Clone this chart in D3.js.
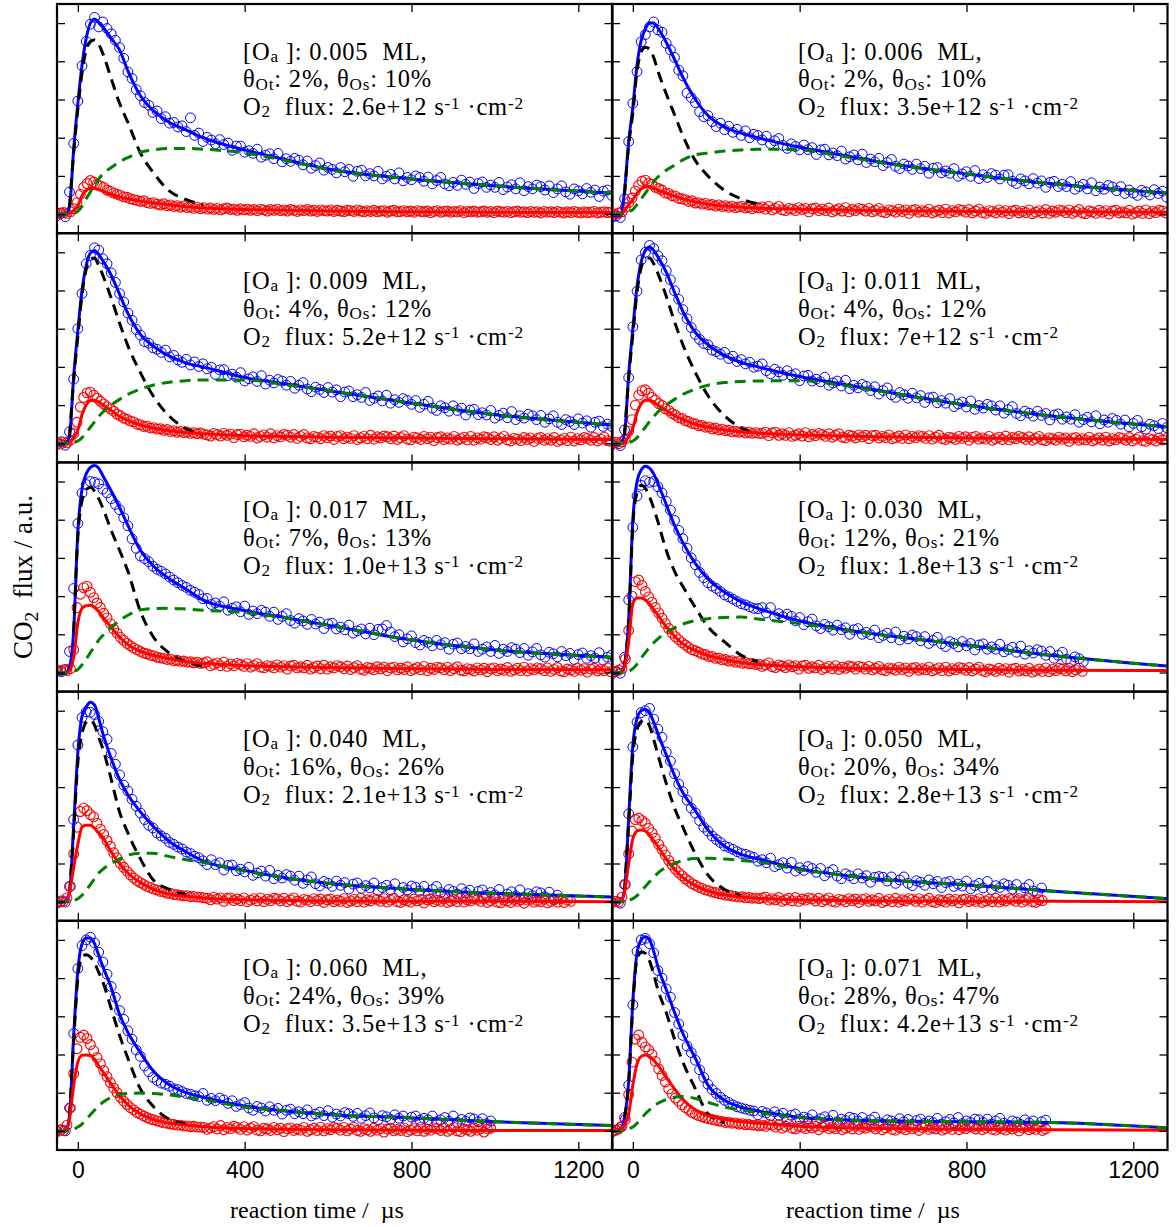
<!DOCTYPE html>
<html>
<head>
<meta charset="utf-8">
<script src="https://cdn.jsdelivr.net/npm/d3@7"></script>
<style>
  body { margin: 0; background: #fff; }
  text { white-space: pre; }
</style>
</head>
<body>
<svg id="chart" width="1176" height="1227"></svg>
<script>
// ---- panel annotations (one entry per panel, row by row, left then right) ----
const oaCoverage = ["0.005", "0.006", "0.009", "0.011", "0.017", "0.030", "0.040", "0.050", "0.060", "0.071"];
const thetaOt = ["2%", "2%", "4%", "4%", "7%", "12%", "16%", "20%", "24%", "28%"];
const thetaOs = ["10%", "10%", "12%", "12%", "13%", "21%", "26%", "34%", "39%", "47%"];
const o2Flux = ["2.6e+12", "3.5e+12", "5.2e+12", "7e+12", "1.0e+13", "1.8e+13", "2.1e+13", "2.8e+13", "3.5e+13", "4.2e+13"];

// ---- axes ----
const xTicks = [0, 400, 800, 1200];
const yTicks = [0, 100, 200, 300, 400, 500];   // CO2 flux in 1/100 a.u.

// ---- model curves, sampled at fitTimes (µs) ----
const fitTimes = [-50, -30, -20, -10, 0, 10, 20, 30, 40, 50, 60, 80, 100, 120, 150, 180, 220, 260, 300, 400, 500, 600, 800, 1000, 1280];

const blueFit = [
  [-3, -2, 20, 170, 290, 390, 460, 500, 511, 502, 490, 460, 430, 375, 310, 272, 240, 220, 200, 168, 142, 118, 92, 74, 55],
  [-5, -3, 60, 190, 280, 390, 455, 485, 500, 500, 487, 450, 405, 358, 300, 258, 228, 212, 200, 175, 155, 135, 105, 80, 55],
  [-3, -2, 20, 175, 295, 400, 465, 498, 505, 495, 478, 440, 390, 340, 285, 255, 228, 210, 200, 172, 155, 138, 105, 75, 48],
  [-3, -2, 25, 180, 300, 410, 475, 505, 514, 505, 488, 448, 395, 345, 290, 258, 230, 212, 200, 175, 155, 136, 100, 72, 43],
  [-3, -2, 15, 110, 370, 480, 520, 537, 542, 535, 515, 475, 432, 385, 320, 280, 245, 218, 190, 162, 143, 124, 85, 59, 40],
  [-3, -1, 20, 140, 400, 500, 530, 540, 535, 520, 495, 440, 385, 340, 285, 245, 210, 185, 168, 135, 114, 98, 72, 45, 17],
  [-2, 0, 25, 200, 390, 485, 510, 522, 515, 480, 440, 375, 320, 280, 235, 198, 157, 130, 107, 82, 62, 48, 32, 22, 12],
  [-2, 0, 30, 220, 410, 480, 500, 503, 495, 470, 440, 385, 330, 285, 238, 188, 145, 124, 112, 86, 70, 58, 44, 28, 8],
  [-2, 0, 40, 250, 420, 490, 505, 505, 490, 460, 430, 375, 305, 258, 205, 158, 120, 100, 88, 65, 52, 43, 34, 24, 14],
  [-2, 5, 35, 130, 340, 465, 500, 508, 500, 470, 430, 370, 310, 255, 190, 120, 80, 62, 52, 36, 29, 26, 24, 22, 8]
];
const fastFit = [
  [0, 0, 18, 160, 275, 370, 430, 452, 456, 445, 420, 355, 290, 240, 160, 110, 60, 38, 24, 8, 3, 1, 0, 0, 0],
  [0, 0, 50, 180, 265, 375, 425, 437, 432, 410, 375, 315, 260, 205, 140, 100, 62, 40, 26, 9, 3, 1, 0, 0, 0],
  [0, 0, 18, 165, 280, 390, 455, 482, 485, 465, 440, 380, 315, 255, 185, 125, 70, 38, 22, 6, 2, 0, 0, 0, 0],
  [0, 0, 22, 170, 285, 395, 460, 482, 485, 470, 445, 385, 318, 258, 185, 125, 72, 40, 24, 7, 2, 0, 0, 0, 0],
  [0, 0, 14, 105, 355, 450, 478, 485, 475, 455, 430, 372, 320, 265, 160, 95, 50, 28, 16, 5, 1, 0, 0, 0, 0],
  [0, 0, 18, 135, 385, 470, 490, 482, 460, 430, 395, 320, 265, 225, 170, 120, 80, 45, 28, 8, 2, 0, 0, 0, 0],
  [0, 0, 22, 185, 365, 440, 470, 476, 462, 430, 400, 320, 235, 180, 112, 58, 32, 18, 10, 3, 1, 0, 0, 0, 0],
  [0, 0, 28, 205, 385, 450, 472, 476, 460, 425, 385, 310, 245, 195, 125, 70, 32, 16, 9, 3, 1, 0, 0, 0, 0],
  [0, 0, 38, 235, 400, 455, 461, 455, 440, 415, 390, 320, 250, 190, 110, 65, 30, 18, 10, 3, 1, 0, 0, 0, 0],
  [0, 4, 35, 125, 330, 450, 468, 465, 445, 410, 370, 310, 240, 180, 110, 45, 22, 10, 5, 1, 0, 0, 0, 0, 0]
];
const slowFit = [
  [0, 0, 0, 2, 8, 20, 40, 58, 75, 92, 105, 122, 137, 148, 162, 168, 172, 172, 170, 160, 140, 117, 92, 74, 55],
  [0, 0, 2, 6, 12, 25, 40, 55, 70, 85, 97, 115, 128, 142, 155, 160, 165, 168, 170, 168, 152, 134, 105, 80, 55],
  [0, 0, 0, 2, 6, 15, 28, 42, 56, 70, 82, 100, 115, 128, 142, 152, 160, 164, 166, 166, 153, 138, 105, 75, 48],
  [0, 0, 0, 2, 6, 15, 28, 42, 57, 70, 82, 100, 115, 128, 142, 152, 159, 162, 163, 164, 152, 135, 100, 72, 43],
  [0, 0, 0, 3, 8, 20, 35, 52, 68, 85, 97, 118, 136, 150, 164, 167, 168, 166, 163, 157, 142, 124, 85, 59, 40],
  [0, 0, 0, 3, 10, 22, 38, 52, 66, 78, 88, 105, 117, 127, 136, 141, 144, 145, 140, 128, 112, 98, 72, 45, 17],
  [0, 0, 0, 3, 8, 17, 30, 45, 60, 75, 85, 100, 112, 122, 127, 127, 118, 110, 103, 80, 62, 48, 32, 22, 12],
  [0, 0, 0, 3, 8, 16, 28, 40, 52, 64, 75, 90, 100, 108, 113, 114, 112, 108, 104, 84, 70, 58, 44, 28, 8],
  [0, 0, 1, 4, 10, 18, 30, 42, 54, 66, 75, 88, 95, 98, 99, 98, 94, 88, 82, 62, 52, 43, 34, 24, 14],
  [0, 0, 2, 6, 10, 20, 32, 45, 55, 65, 72, 82, 88, 90, 85, 75, 62, 55, 48, 35, 29, 26, 24, 22, 8]
];
const redFit = [
  [0, 0, 2, 10, 22, 48, 62, 67, 67, 64, 60, 52, 45, 40, 34, 29, 24, 19, 16, 12, 10, 8, 6, 5, 4],
  [0, 0, 10, 25, 38, 55, 66, 71, 72, 68, 63, 55, 47, 40, 32, 26, 21, 18, 16, 13, 11, 9, 7, 6, 5],
  [0, 0, 2, 15, 35, 75, 100, 112, 113, 108, 100, 86, 70, 60, 48, 40, 33, 28, 25, 20, 18, 16, 14, 12, 10],
  [0, 0, 3, 18, 40, 80, 104, 113, 113, 108, 100, 86, 72, 62, 50, 42, 35, 30, 27, 22, 19, 17, 14, 12, 10],
  [0, 0, 5, 40, 130, 168, 175, 176, 170, 160, 145, 118, 93, 73, 55, 45, 36, 28, 24, 18, 15, 13, 10, 8, 7],
  [0, 0, 15, 80, 180, 195, 195, 190, 180, 165, 150, 120, 95, 75, 57, 45, 34, 26, 21, 15, 12, 10, 8, 6, 5],
  [0, 0, 25, 90, 150, 195, 200, 200, 192, 180, 168, 130, 100, 75, 50, 33, 20, 14, 10, 5, 3, 2, 1, 1, 0],
  [0, 0, 25, 100, 165, 185, 188, 185, 175, 160, 145, 112, 85, 63, 42, 28, 18, 12, 9, 5, 3, 2, 1, 1, 0],
  [0, 0, 30, 120, 180, 198, 199, 197, 188, 170, 155, 122, 92, 68, 45, 30, 20, 15, 11, 6, 4, 3, 2, 1, 1],
  [0, 5, 15, 45, 120, 175, 195, 199, 195, 185, 172, 140, 110, 82, 55, 40, 30, 24, 20, 12, 8, 6, 4, 3, 2]
];

// ---- measured transients: first sample at sampleStart, fixed sampling interval (µs) ----
const sampleStart = -50;
const blueStep = 10;
const redStep = 8;

const blueData = [
  [-4,3,-7,58,185,296,388,452,497,515,490,503,486,472,455,436,408,372,355,326,310,292,285,266,270,250,255,238,240,228,231,216,252,206,212,
   190,201,194,184,195,182,186,167,178,178,162,166,159,170,149,154,158,145,159,137,145,138,146,141,129,139,120,127,134,115,
   122,117,108,122,111,117,99,112,115,100,106,100,112,92,99,104,92,108,87,96,90,100,96,86,97,79,88,96,79,74,
   83,75,89,78,84,67,80,84,70,76,70,83,64,71,77,66,82,61,72,66,76,72,63,74,56,66,74,58,52,66,61,53,67,57,63,46,60,63,49],
  [-8,-5,-9,40,190,290,373,451,470,490,503,482,476,447,430,410,377,362,317,305,292,268,255,258,242,229,238,221,230,214,222,206,218,200,209,
   206,194,204,184,192,198,180,172,184,177,168,181,169,174,156,168,170,155,160,153,165,144,150,155,142,157,135,144,137,146,
   127,135,143,125,119,131,126,117,131,119,125,107,120,122,108,113,107,119,99,105,111,99,114,93,103,96,106,102,92,102,
   103,86,80,92,87,79,93,81,87,70,83,86,72,78,72,85,65,72,78,66,82,61,71,65,75,71,61,72,54,63,55,49,62,58,50,64,54,60,44],
  [-2,4,-5,30,168,300,392,470,492,512,506,483,470,446,421,392,370,341,322,298,283,266,262,250,246,238,244,226,230,218,212,220,205,213,201,
   208,195,199,180,192,193,177,181,173,185,163,169,174,162,177,155,165,158,167,163,152,162,144,152,159,142,135,147,141,133,
   146,134,140,122,134,137,122,127,120,133,112,118,124,111,126,105,114,107,117,112,102,112,94,102,110,92,86,98,93,84,
   98,86,92,74,87,89,75,80,74,86,66,73,79,67,83,62,72,66,76,72,62,73,55,64,72,55,49,62,57,49,64,53,59,42,55,58,44,50,44],
  [-3,2,-6,35,172,305,398,480,500,518,510,491,478,452,428,399,377,350,326,303,285,272,261,258,244,240,233,238,222,228,214,219,208,212,199,
   202,208,190,182,194,187,178,190,178,182,164,176,178,163,168,161,173,152,158,163,150,165,143,152,145,154,149,138,148,129,
   138,145,127,120,133,127,118,131,119,125,107,119,121,106,112,105,117,96,103,108,95,111,89,99,92,102,98,87,98,79,
   88,96,78,72,84,79,71,84,73,78,61,74,77,63,69,63,75,55,62,68,56,72,51,61,55,65,60,50,61,43,52,60,43,37,50,46,38,52,41],
  [5,2,8,55,220,390,470,492,500,498,494,480,470,455,440,426,405,384,350,325,305,298,290,278,270,265,258,250,242,235,228,223,215,210,204,
   193,194,178,182,174,185,163,168,172,159,174,152,161,154,163,158,147,158,139,147,154,136,129,141,135,126,139,127,132,115,
   127,129,114,119,112,124,103,109,114,101,116,99,113,114,123,106,94,99,80,88,96,78,72,84,79,70,84,73,78,61,
   74,77,62,68,62,75,55,61,67,55,71,50,61,55,65,61,52,63,45,54,63,46,40,53,49,41,55,44,50,34,47,51,37,44,38,52,32,40,46],
  [-4,3,-2,40,190,380,462,490,502,498,500,486,470,448,425,398,372,350,325,300,282,262,248,235,226,220,212,203,198,192,186,180,177,172,168,
   167,170,156,170,146,154,146,153,147,135,144,125,133,140,122,115,126,120,111,124,112,117,100,112,115,100,105,99,111,91,
   97,103,91,106,85,95,88,98,94,83,94,76,84,92,75,68,81,76,67,81,70,76,59,72,75,61,67,61,74,54,
   60,66,53,69,48,57,51,60,56,45,55,37,45,53,35,29,41,36,28],
  [-3,2,-1,40,215,410,482,497,496,490,472,445,425,388,360,332,305,290,268,250,232,215,200,193,180,172,166,155,150,143,138,130,126,119,115,
   107,97,110,97,102,83,95,96,81,85,78,90,69,75,80,67,82,60,69,62,71,67,56,67,48,57,65,47,41,53,
   48,40,54,43,50,33,46,49,35,42,36,49,29,37,43,31,47,26,37,31,41,38,28,40,22,32,40,24,18,32,
   27,20,34,24,30,14,27,31,17,24,18,32,12,20,26,15,31,11,21,16,26,23,13,25,7,17],
  [-3,1,-4,45,230,405,470,495,500,506,478,452,430,392,368,335,308,288,266,245,232,212,195,185,172,163,155,146,142,137,131,126,124,120,116,
   106,110,102,114,92,97,102,88,103,80,89,82,92,87,77,87,68,77,84,67,60,73,68,60,73,62,68,51,64,66,
   64,54,65,48,57,65,48,42,55,51,43,57,47,53,37,50,53,40,46,41,54,34,42,48,36,53,32,42,37,47,
   43,33,45,27,36,45,28,23,36],
  [-2,3,0,60,255,425,485,500,507,492,468,442,410,378,350,315,292,262,240,212,195,170,155,140,132,125,122,117,110,108,103,98,96,92,90,
   98,80,85,79,86,81,72,79,64,69,74,60,54,64,60,52,63,54,59,44,54,57,45,50,45,55,39,44,49,40,
   53,36,44,39,48,45,38,46,33,40,47,34,29,40,37,30,42,33,39,25,36,39,28,33,29,39,24,29,35,25,
   39,22,30,25,34,31,24,32,19,26],
  [-3,2,10,35,120,330,470,500,504,490,466,420,400,372,350,310,280,250,222,205,185,160,140,122,108,98,88,80,74,68,63,60,57,54,52,
   42,51,47,40,50,41,46,32,41,44,31,36,32,42,26,32,37,27,41,24,31,27,36,33,26,35,21,29,36,22,
   18,29,26,20,32,24,30,17,27,31,20,26,22,33,18,24,30,21,35,19,26,22,31,29,22,31,18,26,33,20,
   15,26,23,17,29,21,26,13,24,28]
];

const redData = [
  [3,1,4,2,6,14,30,52,70,80,88,84,78,74,70,63,60,55,52,49,45,44,40,38,36,33,35,30,28,30,26,24,27,22,24,20,22,18,21,17,19,15,18,14,17,
   13,16,12,15,11,14,16,12,13,10,14,11,13,10,12,9,13,11,8,12,10,13,9,11,8,12,10,7,11,9,12,8,10,7,11,9,
   8,11,7,10,8,6,10,9,7,11,8,6,9,7,10,6,8,9,5,8,10,6,7,9,6,8,5,9,7,6,8,4,7,9,5,7,
   8,5,7,6,9,4,7,6,8,5,6,8,5,7,4,8,6,5,7,4,6,8,5,6,4,7,5,6,3,7,5,6,4,7,5,3,6,4,7,5,3,6,4,5,7,3,5,6,4,5],
  [2,-1,3,6,18,30,42,60,75,86,89,81,78,70,67,63,55,54,48,47,41,40,38,33,35,29,30,26,28,24,25,21,24,20,22,18,21,17,19,20,16,18,14,19,16,
   19,13,20,11,15,20,11,9,15,13,9,17,12,15,6,14,16,9,13,9,16,6,10,14,8,17,6,12,9,15,13,8,15,6,10,15,
   6,4,11,9,5,13,7,11,2,10,12,5,9,6,13,3,7,10,4,13,3,9,6,12,10,5,12,3,8,13,4,2,9,7,3,11,
   5,9,1,8,10,3,7,4,11,1,5,9,3,12,2,8,5,11,9,4,11,2,7,12,3,1,8,6,2,10,5,9,0,8,10,3,6,3,10,0,4,8,2,11,1,7,4,10,8,3],
  [2,-2,3,1,8,25,55,95,120,132,134,126,118,110,103,96,90,84,76,72,66,63,58,56,50,49,44,45,40,41,37,38,34,36,31,33,29,31,28,30,26,28,25,27,24,
   22,19,26,23,19,26,21,24,15,23,24,17,21,18,25,14,18,22,16,25,14,20,17,23,21,16,23,13,18,23,14,12,18,16,12,20,
   15,19,10,18,20,12,16,13,20,10,14,18,12,21,11,17,14,19,17,12,19,10,15,20,11,9,16,14,10,18,12,16,7,15,17,10,
   14,11,18,8,12,16,9,18,8,14,11,17,15,10,17,8,13,18,9,6,13,11,7,15,10,14,5,13,15,8,12,8,15,5,9,13,7,16,6,12,9,15,13,8,15,6,11,16,7,5],
  [1,3,-1,4,12,32,62,100,126,138,140,131,120,113,104,99,90,86,78,74,67,65,59,57,52,51,46,47,42,43,38,40,35,37,33,34,30,32,29,31,27,29,26,28,26,
   26,29,20,27,29,21,25,21,28,18,21,25,19,28,17,23,20,26,23,18,25,16,21,25,16,14,21,19,14,22,17,21,12,20,21,14,
   18,15,22,12,15,19,13,22,12,18,15,20,18,13,20,11,16,21,12,10,16,14,10,18,13,17,8,16,18,11,14,11,18,8,12,16,
   10,19,9,15,12,18,15,10,17,8,13,18,9,7,14,12,8,16,11,14,5,13,15,8,12,9,16,6,10,14,8,16,6,12,9,15,13,8,15,6,11,16,7,5,12,10,6,14,9,12],
  [6,4,7,5,10,60,170,205,222,226,210,196,182,170,155,143,128,114,103,92,84,76,70,64,60,55,51,49,45,44,40,38,37,34,35,31,32,29,30,27,28,25,27,24,25,
   28,18,21,25,18,27,16,22,18,24,21,16,23,14,18,23,14,12,18,16,12,20,14,18,9,17,19,12,15,12,19,9,13,17,10,19,
   9,15,12,18,15,10,17,8,13,18,9,6,13,11,7,15,10,14,5,12,14,7,11,8,15,5,9,13,7,16,5,11,8,14,12,7,
   14,5,10,15,6,4,10,8,4,12,7,11,2,10,12,5,9,6,13,3,7,11,5,14,4,10,7,12,10,5,12,3,8,13,4,2,9,7,3,11,6,10,1,9,11,4,8,5,12,2],
  [4,2,6,10,35,110,200,238,242,228,212,198,184,170,156,142,128,115,103,94,86,78,72,66,60,57,53,48,47,42,42,37,38,33,34,30,31,27,29,24,26,23,24,21,22,
   16,20,25,15,13,20,17,13,20,15,18,9,17,19,11,15,12,19,8,12,16,10,18,8,14,11,17,15,9,16,14,9,16,7,11,16,
   7,5,12,10,6,14,8,12,3,11,13,6,10,7,14,4,8,12,5,14,4,10,7,13,11,6,13,4,9,14,5,2,9,7,3,11,
   6,10,1,9,11,4,8,4,11,1,5,9,3,12,2,8,5,11,9,4,11,2,7,12,3],
  [-3,-1,2,10,40,125,195,236,245,238,228,222,205,190,176,160,145,128,115,100,90,80,70,62,55,50,45,40,37,33,31,27,26,22,22,19,18,17,15,16,13,14,12,12,10,
   9,5,12,7,10,1,9,10,3,7,3,10,0,4,8,2,10,0,6,3,9,7,2,9,0,5,10,1,-1,6,4,0,8,3,7,-2,
   5,7,0,4,1,8,-2,2,6,0,9,-1,5,2,8,6,1,8,-1,4,9,0,-2,5,3,-1,7,2,6,-3,5,7,0,4,1,8,
   -2,2,6,0,9,-1,5,2,8,6,1,8,-2,3,8,-1,-3,4,2,-2,6,1,5,-4,4,6,-1,3,0,7,-3,1,5,-1,8,-2,4,1],
  [-2,1,-1,12,45,125,185,215,219,212,205,192,180,166,150,136,122,108,96,85,76,68,60,54,47,43,38,35,31,29,25,24,21,20,17,17,15,14,12,13,10,11,9,10,8,
   10,12,4,8,5,11,1,5,9,2,11,1,7,4,10,8,2,9,0,5,10,1,-1,6,4,0,8,3,7,-2,6,8,1,5,2,9,
   -2,2,6,0,9,-1,5,2,8,6,1,8,-1,4,9,0,-2,5,3,-1,7,2,6,-3,5,7,0,4,1,8,-2,2,6,0,9,-1,
   5,2,8,6,1,8,-1,4,9,0,-2,5,3],
  [-1,2,1,15,60,150,215,245,251,242,226,210,192,176,158,142,126,112,100,88,78,69,61,55,48,44,39,35,31,29,26,24,21,20,18,17,15,15,13,13,11,12,10,10,9,
   4,8,11,5,14,3,9,6,12,9,4,11,2,7,11,2,0,7,5,1,9,3,7,-2,6,8,1,5,2,9,-1,3,7,1,10,0,
   6,3,9,7,2,9,0,5,10,1,-1,6,3,-1,7,2,6,-3,5,7,0,4,1,8,-2,2,6,0,9,-1,5,2,8,6,1,8,
   -1,4,9,0,-2,5,3,-1,7,2,6,-3,5,7],
  [0,2,5,12,30,95,180,240,251,232,220,212,200,182,162,145,128,110,97,86,78,68,61,55,48,44,40,37,34,32,30,28,26,25,22,23,20,21,18,19,16,17,15,15,13,
   15,12,17,15,10,16,7,12,17,7,5,12,10,6,13,8,12,3,11,13,6,9,6,13,3,7,11,5,14,4,10,7,13,11,5,12,
   3,8,13,4,2,9,7,3,11,6,10,1,9,11,4,8,5,12,2,6,10,4,13,3,9,6,12,10,5,12,3,8,13,4,2,9,
   6,2,10,5,9,0,8,10,3,7,4,11,1,5]
];

// ---- layout ----
const FONT = "'Liberation Serif', 'DejaVu Serif', serif";
const colX = [57, 612];
const panelW = 555.5;
const top0 = 4;
const panelH = 229.2;
const xDomain = [-50, 1282];
const yDomain = [-50, 550];
const BLUE = "#0000ff", RED = "#ff0000", GREEN = "#008000", BLACK = "#000000";

const svg = d3.select("#chart");
const defs = svg.append("defs");

// text with sub/superscript runs: parts = [[string, "sub"|"sup"|undefined], ...]
function richText(sel, parts, size, opts = {}) {
  const subDrop = opts.subDrop ?? size * 0.22;
  const supRise = opts.supRise ?? size * 0.38;
  const scale = opts.scale ?? 0.72;
  let shift = 0;
  parts.forEach(([str, kind]) => {
    const target = kind === "sub" ? subDrop : kind === "sup" ? -supRise : 0;
    sel.append("tspan")
      .attr("dy", target - shift)
      .attr("font-size", kind ? size * scale : size)
      .text(str);
    shift = target;
  });
}

const tickLen = 8;

for (let p = 0; p < 10; p++) {
  const row = Math.floor(p / 2), col = p % 2;
  const x0 = colX[col], y0 = top0 + row * panelH;
  const x = d3.scaleLinear().domain(xDomain).range([x0, x0 + panelW]);
  const y = d3.scaleLinear().domain(yDomain).range([y0 + panelH, y0]);

  defs.append("clipPath").attr("id", "clip" + p)
    .append("rect").attr("x", x0).attr("y", y0).attr("width", panelW).attr("height", panelH);

  const g = svg.append("g").attr("clip-path", `url(#clip${p})`);

  const bluePts = blueData[p].map((v, i) => ({ t: sampleStart + i * blueStep, v }));
  const redPts = redData[p].map((v, i) => ({ t: sampleStart + i * redStep, v }));

  g.append("g").selectAll("circle").data(bluePts).join("circle")
    .attr("cx", d => x(d.t)).attr("cy", d => y(d.v)).attr("r", 4.9)
    .attr("fill", "none").attr("stroke", BLUE).attr("stroke-width", 1);

  g.append("g").selectAll("circle").data(redPts).join("circle")
    .attr("cx", d => x(d.t)).attr("cy", d => y(d.v)).attr("r", 4.9)
    .attr("fill", "none").attr("stroke", RED).attr("stroke-width", 1.1);

  const line = d3.line()
    .x((d, i) => x(fitTimes[i]))
    .y(d => y(d))
    .curve(d3.curveMonotoneX);

  // fast component is only traced while it stands clear of the baseline band
  const fastLine = d3.line()
    .defined(d => d >= 15)
    .x((d, i) => x(fitTimes[i]))
    .y(d => y(d))
    .curve(d3.curveMonotoneX);

  g.append("path").attr("d", line(blueFit[p]))
    .attr("fill", "none").attr("stroke", BLUE).attr("stroke-width", 3);
  g.append("path").attr("d", fastLine(fastFit[p]))
    .attr("fill", "none").attr("stroke", BLACK).attr("stroke-width", 3)
    .attr("stroke-dasharray", "11,7");
  g.append("path").attr("d", line(redFit[p]))
    .attr("fill", "none").attr("stroke", RED).attr("stroke-width", 3);
  g.append("path").attr("d", line(slowFit[p]))
    .attr("fill", "none").attr("stroke", GREEN).attr("stroke-width", 3)
    .attr("stroke-dasharray", "11,7");

  // inward ticks on all four sides
  const axes = svg.append("g").attr("font-family", FONT);
  const tidy = sel => {
    sel.select(".domain").remove();
    sel.selectAll(".tick line").attr("stroke", BLACK).attr("stroke-width", 1.3);
  };
  axes.append("g").attr("transform", `translate(0,${y0})`)
    .call(d3.axisTop(x).tickValues(xTicks).tickSize(-tickLen).tickFormat(""))
    .call(tidy);
  const bottom = axes.append("g").attr("transform", `translate(0,${y0 + panelH})`)
    .call(d3.axisBottom(x).tickValues(xTicks).tickSize(-tickLen).tickPadding(12)
      .tickFormat(row === 4 ? d3.format("d") : ""))
    .call(tidy);
  bottom.selectAll(".tick text").attr("font-size", 23).attr("fill", BLACK);
  axes.append("g").attr("transform", `translate(${x0},0)`)
    .call(d3.axisLeft(y).tickValues(yTicks).tickSize(-tickLen).tickFormat(""))
    .call(tidy);
  axes.append("g").attr("transform", `translate(${x0 + panelW},0)`)
    .call(d3.axisRight(y).tickValues(yTicks).tickSize(-tickLen).tickFormat(""))
    .call(tidy);

  // frame
  svg.append("rect").attr("x", x0).attr("y", y0).attr("width", panelW).attr("height", panelH)
    .attr("fill", "none").attr("stroke", BLACK).attr("stroke-width", 2.2);

  // annotation
  const tx = x0 + 186, size = 24.5;
  const lines = [
    [["[O"], ["a", "sub"], [" ]: " + oaCoverage[p] + "  ML,"]],
    [["θ"], ["Ot", "sub"], [": " + thetaOt[p] + ", θ"], ["Os", "sub"], [": " + thetaOs[p]]],
    [["O"], ["2", "sub"], ["  flux: " + o2Flux[p] + " s"], ["-1", "sup"], [" ·cm"], ["-2", "sup"]]
  ];
  lines.forEach((parts, k) => {
    const t = svg.append("text").attr("x", tx).attr("y", y0 + 55.5 + k * 27.9)
      .attr("font-family", FONT).attr("font-size", size).attr("fill", BLACK)
      .attr("letter-spacing", 0.8);
    richText(t, parts, size, { subDrop: 2.1, supRise: 6.3, scale: 0.7 });
  });
}

// axis titles
[317, 873].forEach(cx => {
  svg.append("text").attr("x", cx).attr("y", 1218).attr("text-anchor", "middle")
    .attr("font-family", FONT).attr("font-size", 24).attr("fill", BLACK)
    .text("reaction time /  µs");
});
const yl = svg.append("text").attr("transform", "translate(32,577) rotate(-90)")
  .attr("text-anchor", "middle").attr("font-family", FONT).attr("font-size", 27).attr("fill", BLACK);
richText(yl, [["CO"], ["2", "sub"], ["  flux / a.u."]], 27);
</script>
</body>
</html>
